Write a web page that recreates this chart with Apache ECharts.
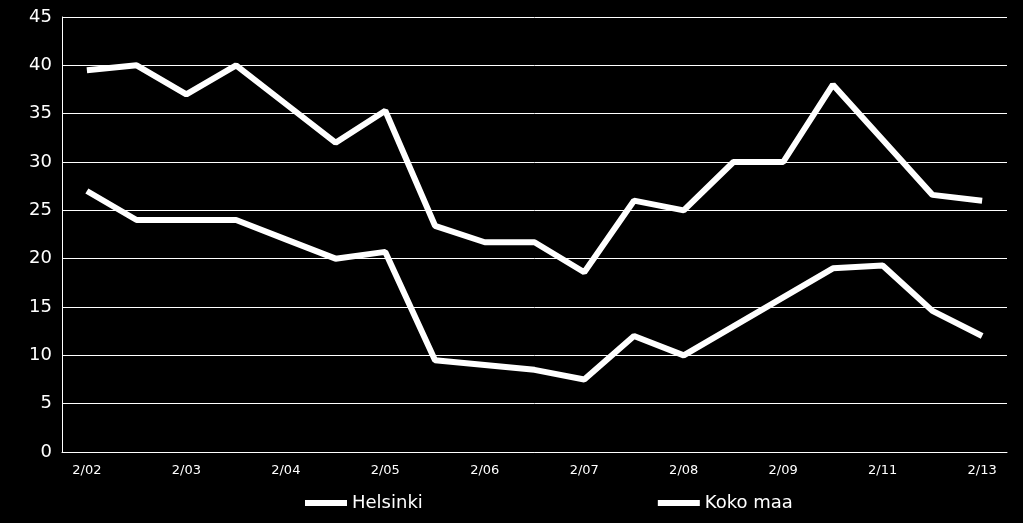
<!DOCTYPE html>
<html>
<head>
<meta charset="UTF-8">
<script src="https://cdn.jsdelivr.net/npm/echarts@6/dist/echarts.min.js"></script>
</head>
<body style="margin:0;background:#000;">
<div id="chart" style="width:1023px;height:523px;"></div>
<script>
// kuukaudet, joka toinen nimetty akselilla
var categories = ['2/02','8/02','2/03','8/03','2/04','8/04','2/05','8/05','2/06','8/06',
                  '2/07','8/07','2/08','8/08','2/09','8/09','2/11','8/11','2/13'];
var kokoMaa = [39.5, 40, 37, 40, 36, 32, 35.3, 23.4, 21.7, 21.7, 18.6, 26, 25, 30, 30, 38, 32.3, 26.6, 26];
var helsinki = [27, 24, 24, 24, 22, 20, 20.7, 9.5, 9, 8.5, 7.5, 12, 10, 13, 16, 19, 19.3, 14.6, 12];

var chart = echarts.init(document.getElementById('chart'));
var lineStyle = {color: '#fff', width: 6};
chart.setOption({
	backgroundColor: '#000',
	animation: false,
	textStyle: {fontFamily: 'DejaVu Sans'},
	grid: {left: 62, right: 16, top: 17, bottom: 71},
	xAxis: {
		type: 'category',
		data: categories,
		boundaryGap: true,
		axisLine: {lineStyle: {color: '#fff'}},
		axisTick: {show: false},
		axisLabel: {color: '#fff', interval: 1, fontSize: 13, margin: 12}
	},
	yAxis: {
		type: 'value',
		min: 0, max: 45, interval: 5,
		axisLine: {show: true, lineStyle: {color: '#fff'}},
		axisLabel: {color: '#fff', fontSize: 18, margin: 10},
		splitLine: {lineStyle: {color: '#fff', width: 1}}
	},
	legend: {
		bottom: 6,
		left: 300,
		itemGap: 235,
		itemWidth: 42,
		itemHeight: 6,
		icon: 'rect',
		textStyle: {color: '#fff', fontSize: 18},
		data: ['Helsinki', 'Koko maa']
	},
	series: [
		{name: 'Helsinki', type: 'line', data: helsinki, symbol: 'none',
		 itemStyle: {color: '#fff'}, lineStyle: lineStyle},
		{name: 'Koko maa', type: 'line', data: kokoMaa, symbol: 'none',
		 itemStyle: {color: '#fff'}, lineStyle: lineStyle}
	]
});
</script>
</body>
</html>
